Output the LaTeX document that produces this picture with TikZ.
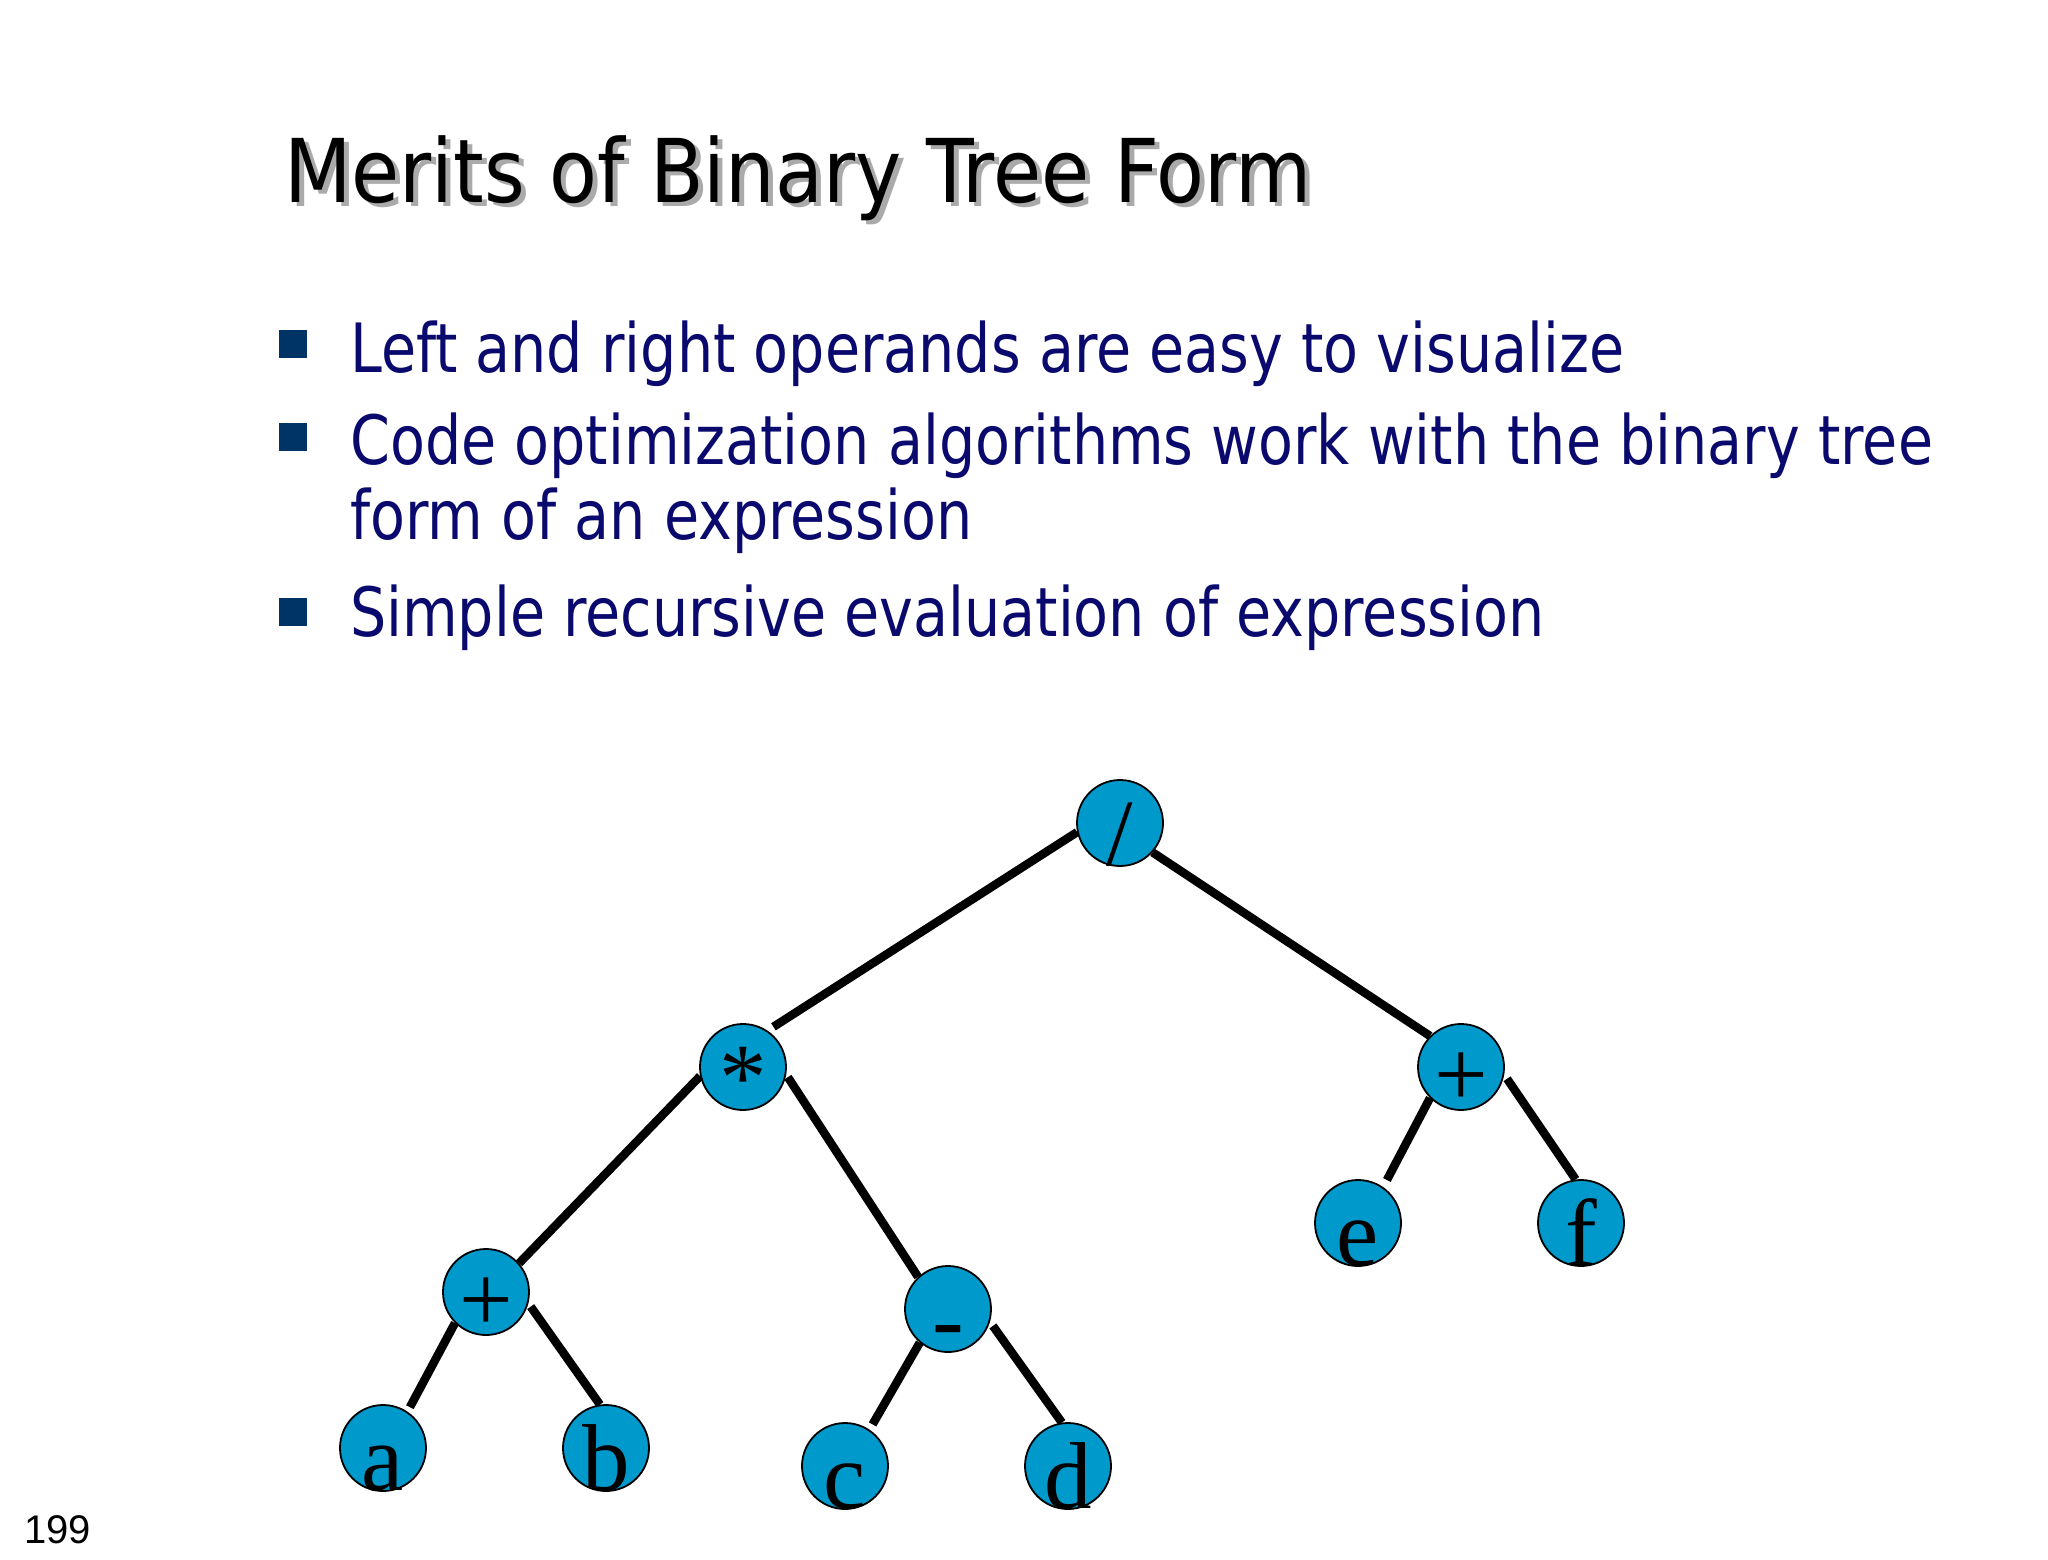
\documentclass[tikz,border=0pt]{standalone}
\usepackage{fontspec}
\setmainfont{DejaVu Sans}
\newfontfamily\treefont{Liberation Serif}
\newfontfamily\pnfamily{Liberation Sans}
\definecolor{nodeblue}{RGB}{0,153,204}
\definecolor{txtnavy}{RGB}{10,10,110}
\definecolor{bulblue}{RGB}{0,51,102}
\definecolor{shadowgray}{RGB}{170,170,170}
\tikzset{
  tn/.style={circle, draw=black, line width=1.8pt, fill=nodeblue, minimum size=86pt, inner sep=0pt},
  tl/.style={anchor=base, inner sep=0pt, font={\treefont\fontsize{95}{95}\selectfont}},
  edge/.style={line width=8.5pt, draw=black},
  bsq/.style={rectangle, fill=bulblue, minimum size=28pt, inner sep=0pt},
  btxt/.style={anchor=base west, inner sep=0pt, text=txtnavy, font={\fontsize{68}{68}\selectfont}},
  ttl/.style={anchor=base west, inner sep=0pt, font={\fontsize{88}{88}\selectfont}}
}
\newcommand{\bsc}[1]{\scalebox{0.84}[1]{#1}}
\begin{document}
\begin{tikzpicture}[x=1pt,y=-1pt]
\useasboundingbox[fill=white] (0,0) rectangle (2048,1560);
% title
\node[ttl, text=shadowgray] (tsh) at (289,206) {\scalebox{0.889}[1]{Merits of Binary Tree Form}};
\node[ttl, text=black] (title) at (284,202) {\scalebox{0.889}[1]{Merits of Binary Tree Form}};
% bullets
\node[bsq] (q1) at (293,344) {};
\node[bsq] (q2) at (293,437) {};
\node[bsq] (q3) at (293,612) {};
\node[btxt] (t1) at (350,372) {\bsc{Left and right operands are easy to visualize}};
\node[btxt] (t2) at (350,464) {\bsc{Code optimization algorithms work with the binary tree}};
\node[btxt] (t3) at (350,539) {\bsc{form of an expression}};
\node[btxt] (t4) at (350,636) {\bsc{Simple recursive evaluation of expression}};
% page number
\node[anchor=base west, inner sep=0pt, font={\pnfamily\fontsize{40}{40}\selectfont}] (pn) at (24,1543) {199};
% tree nodes
\node[tn] (S) at (1120,823) {};
\node[tn] (M) at (743,1067) {};
\node[tn] (PR) at (1461,1067) {};
\node[tn] (E) at (1358,1223) {};
\node[tn] (F) at (1581,1223) {};
\node[tn] (PL) at (486,1292) {};
\node[tn] (D) at (948,1309) {};
\node[tn] (A) at (383,1448) {};
\node[tn] (B) at (606,1448) {};
\node[tn] (C) at (845,1466) {};
\node[tn] (Dd) at (1068,1466) {};
% labels
\node[tl] (Sl) at ([yshift=1pt]S.south) {/};
\node[tl] (Ml) at ([yshift=1pt]M.south) {*};
\node[tl] (PRl) at ([yshift=4pt]PR.south) {+};
\node[tl] (El) at ([yshift=1pt]E.south) {e};
\node[tl] (Fl) at ([yshift=1pt]F.south) {f};
\node[tl] (PLl) at ([yshift=4pt]PL.south) {+};
\node[tl] (Dl) at ([yshift=1pt]D.south) {-};
\node[tl] (Al) at ([yshift=1pt]A.south) {a};
\node[tl] (Bl) at ([yshift=1pt]B.south) {b};
\node[tl] (Cl) at ([yshift=1pt]C.south) {c};
\node[tl] (Ddl) at ([yshift=1pt]Dd.south) {d};
% edges
\draw[edge, shorten >=7pt] (S.192) -- (M.56);
\draw[edge] (S.318) -- (PR.135);
\draw[edge] (M.192) -- (PL.41);
\draw[edge, shorten <=3pt] (M.350) -- (D.133);
\draw[edge, shorten >=8pt] (PR.225) -- (E.55);
\draw[edge, shorten <=5pt] (PR.350) -- (F.97);
\draw[edge, shorten >=5pt] (PL.225) -- (A.56);
\draw[edge, shorten <=4pt] (PL.345) -- (B.98);
\draw[edge, shorten >=6pt] (D.230) -- (C.56);
\draw[edge, shorten <=5pt] (D.343) -- (Dd.98);
\end{tikzpicture}
\end{document}
